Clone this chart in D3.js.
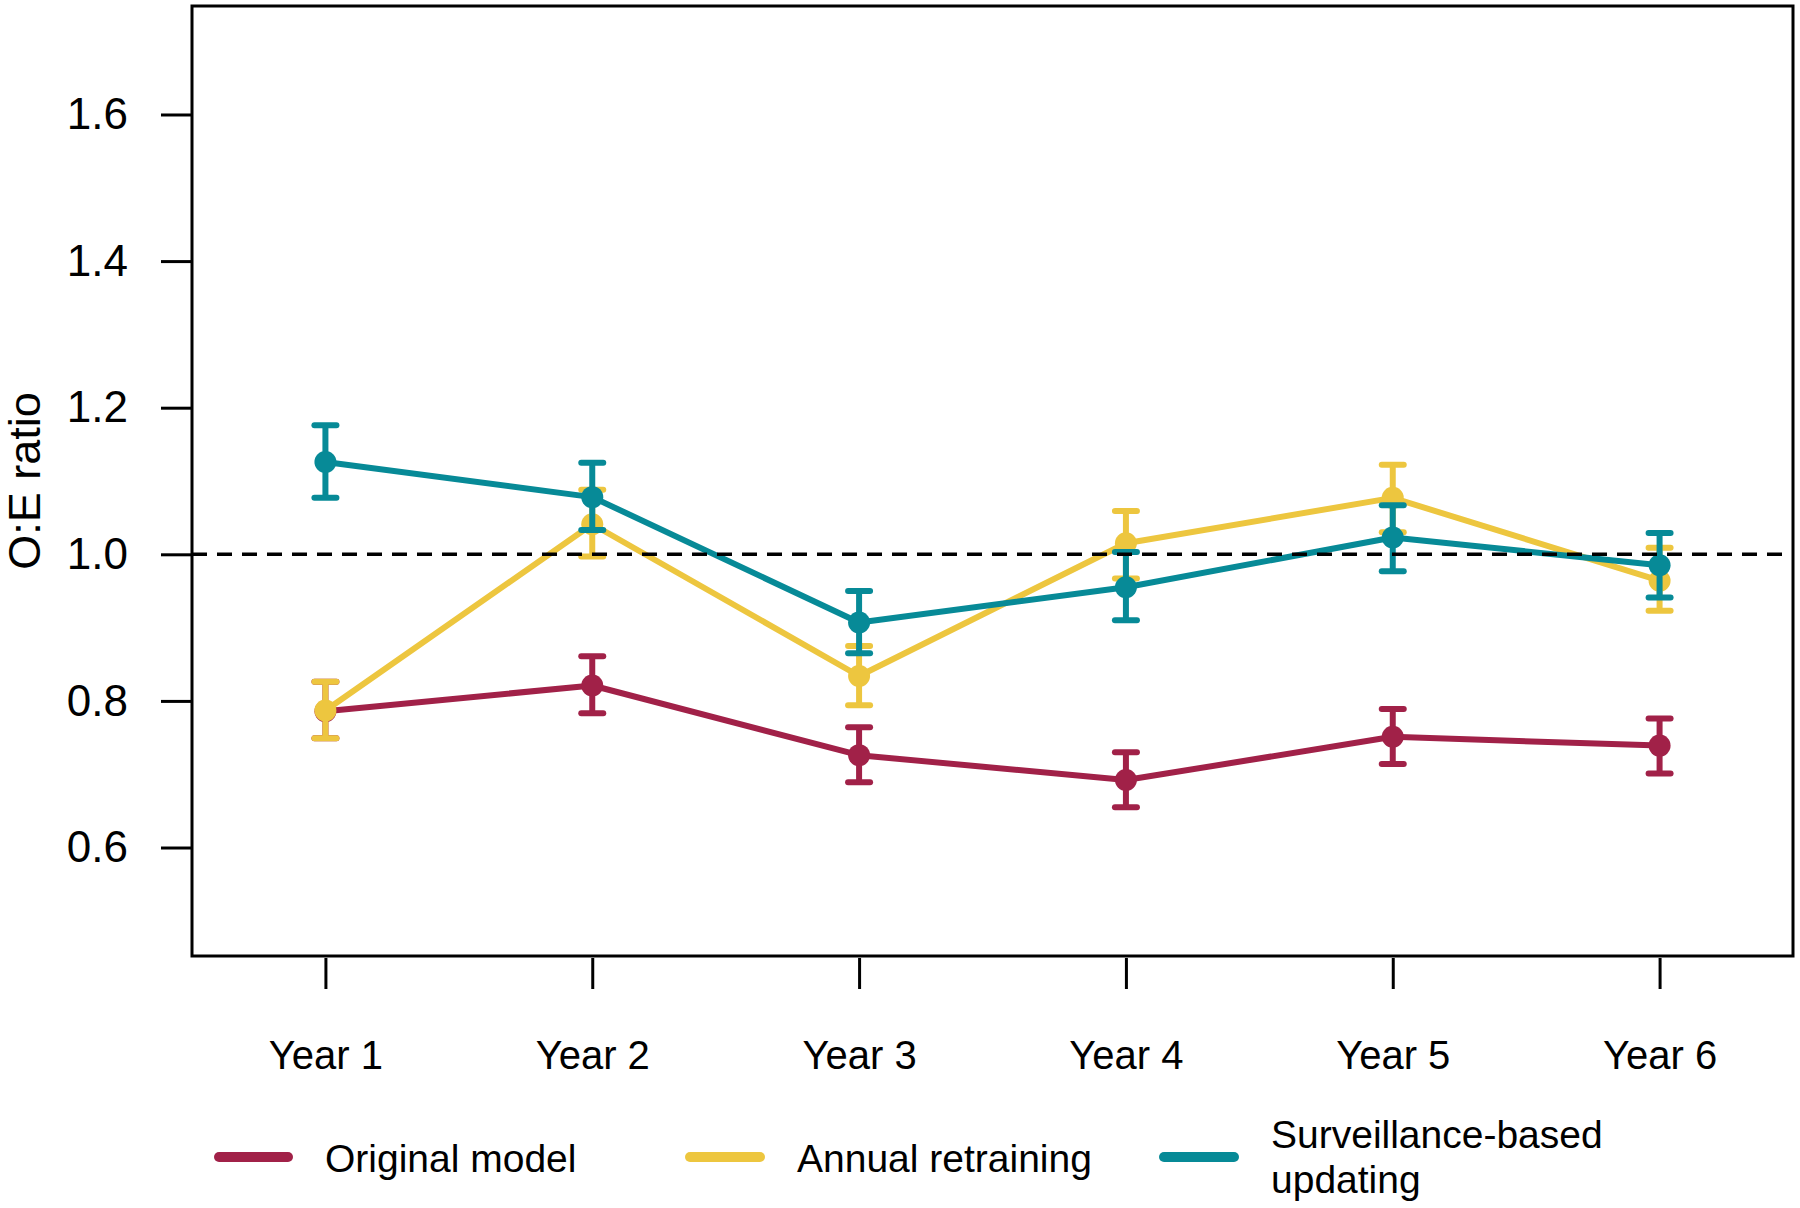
<!DOCTYPE html>
<html>
<head>
<meta charset="utf-8">
<script src="https://cdn.jsdelivr.net/npm/d3@7"></script>
<style>
  html, body { margin: 0; padding: 0; background: #fff; }
  svg { display: block; }
  text { font-family: "Liberation Sans", Arial, sans-serif; fill: #000; }
</style>
</head>
<body>
<svg id="chart" width="1800" height="1208"></svg>
<script>
// ---- data ----
const years = ["Year 1", "Year 2", "Year 3", "Year 4", "Year 5", "Year 6"];
const yTicks = [0.6, 0.8, 1.0, 1.2, 1.4, 1.6];
const seriesNames = ["Original model", "Annual retraining", "Surveillance-based updating"];
const seriesColors = ["#A12148", "#EDC63F", "#078A97"];

const originalMean = [0.786, 0.821, 0.726, 0.692, 0.751, 0.739];
const originalLow  = [0.749, 0.783, 0.689, 0.655, 0.714, 0.701];
const originalHigh = [0.826, 0.861, 0.764, 0.730, 0.789, 0.776];

const annualMean = [0.787, 1.041, 0.834, 1.015, 1.077, 0.964];
const annualLow  = [0.749, 0.997, 0.794, 0.967, 1.030, 0.923];
const annualHigh = [0.826, 1.088, 0.875, 1.059, 1.122, 1.009];

const surveilMean = [1.126, 1.078, 0.907, 0.955, 1.023, 0.985];
const surveilLow  = [1.077, 1.033, 0.865, 0.910, 0.977, 0.941];
const surveilHigh = [1.176, 1.125, 0.950, 1.003, 1.067, 1.029];

const referenceValue = 1.0;

// ---- layout ----
const svg = d3.select("#chart");
const L = 192, R = 1793, T = 6, B = 956;

const x = d3.scaleLinear().domain([0.5, 6.5]).range([L, R]);
const y = d3.scaleLinear().domain([0.452, 1.748]).range([B, T]);

const series = [
  { name: seriesNames[0], color: seriesColors[0], mean: originalMean, lo: originalLow, hi: originalHigh },
  { name: seriesNames[1], color: seriesColors[1], mean: annualMean, lo: annualLow, hi: annualHigh },
  { name: seriesNames[2], color: seriesColors[2], mean: surveilMean, lo: surveilLow, hi: surveilHigh }
];

// ---- axes ----
const yAxis = d3.axisLeft(y).tickValues(yTicks).tickFormat(d3.format(".1f")).tickSize(31).tickPadding(33);
const gy = svg.append("g").attr("transform", `translate(${L},0)`).call(yAxis);
gy.select(".domain").remove();
gy.selectAll(".tick line").attr("stroke", "#000").attr("stroke-width", 3);
gy.selectAll(".tick text").attr("font-size", 44).attr("font-family", "Liberation Sans, Arial, sans-serif").attr("fill", "#000");

const xAxis = d3.axisBottom(x).tickValues(d3.range(1, 7)).tickFormat((d, i) => years[i]).tickSize(31);
const gx = svg.append("g").attr("transform", `translate(0,${B + 2})`).call(xAxis);
gx.select(".domain").remove();
gx.selectAll(".tick line").attr("stroke", "#000").attr("stroke-width", 3);
gx.selectAll(".tick text").attr("font-size", 40).attr("font-family", "Liberation Sans, Arial, sans-serif")
  .attr("fill", "#000").attr("dy", null).attr("y", 111);

// y title
svg.append("text")
  .attr("transform", `translate(40,${(T + B) / 2}) rotate(-90)`)
  .attr("text-anchor", "middle")
  .attr("font-size", 45)
  .text("O:E ratio");

// ---- series ----
const line = d3.line().x((d, i) => x(i + 1)).y(d => y(d));
const capHalf = 11;

series.forEach(s => {
  const g = svg.append("g");
  g.append("path")
    .attr("d", line(s.mean))
    .attr("fill", "none")
    .attr("stroke", s.color)
    .attr("stroke-width", 6)
    .attr("stroke-linejoin", "round");
  s.mean.forEach((m, i) => {
    const cx = x(i + 1);
    g.append("line").attr("x1", cx).attr("x2", cx).attr("y1", y(s.lo[i])).attr("y2", y(s.hi[i]))
      .attr("stroke", s.color).attr("stroke-width", 6);
    [s.lo[i], s.hi[i]].forEach(v => {
      g.append("line").attr("x1", cx - capHalf).attr("x2", cx + capHalf).attr("y1", y(v)).attr("y2", y(v))
        .attr("stroke", s.color).attr("stroke-width", 6).attr("stroke-linecap", "round");
    });
    g.append("circle").attr("cx", cx).attr("cy", y(m)).attr("r", 11).attr("fill", s.color);
  });
});

// reference dashed line
svg.append("line")
  .attr("x1", L).attr("x2", R)
  .attr("y1", y(referenceValue)).attr("y2", y(referenceValue))
  .attr("stroke", "#000").attr("stroke-width", 3.5)
  .attr("stroke-dasharray", "15,10");

// plot box
svg.append("rect")
  .attr("x", L).attr("y", T).attr("width", R - L).attr("height", B - T)
  .attr("fill", "none").attr("stroke", "#000").attr("stroke-width", 3);

// ---- legend ----
const legendY = 1157;
const legendItems = [
  { x1: 219, x2: 288, tx: 325, lines: ["Original model"] },
  { x1: 690, x2: 760, tx: 797, lines: ["Annual retraining"] },
  { x1: 1164, x2: 1234, tx: 1271, lines: ["Surveillance-based", "updating"] }
];
legendItems.forEach((it, i) => {
  svg.append("line")
    .attr("x1", it.x1).attr("x2", it.x2).attr("y1", legendY).attr("y2", legendY)
    .attr("stroke", series[i].color).attr("stroke-width", 10).attr("stroke-linecap", "round");
  if (it.lines.length === 1) {
    svg.append("text").attr("x", it.tx).attr("y", 1172).attr("font-size", 39).text(it.lines[0]);
  } else {
    svg.append("text").attr("x", it.tx).attr("y", 1148).attr("font-size", 39).text(it.lines[0]);
    svg.append("text").attr("x", it.tx).attr("y", 1193).attr("font-size", 39).text(it.lines[1]);
  }
});
</script>
</body>
</html>
